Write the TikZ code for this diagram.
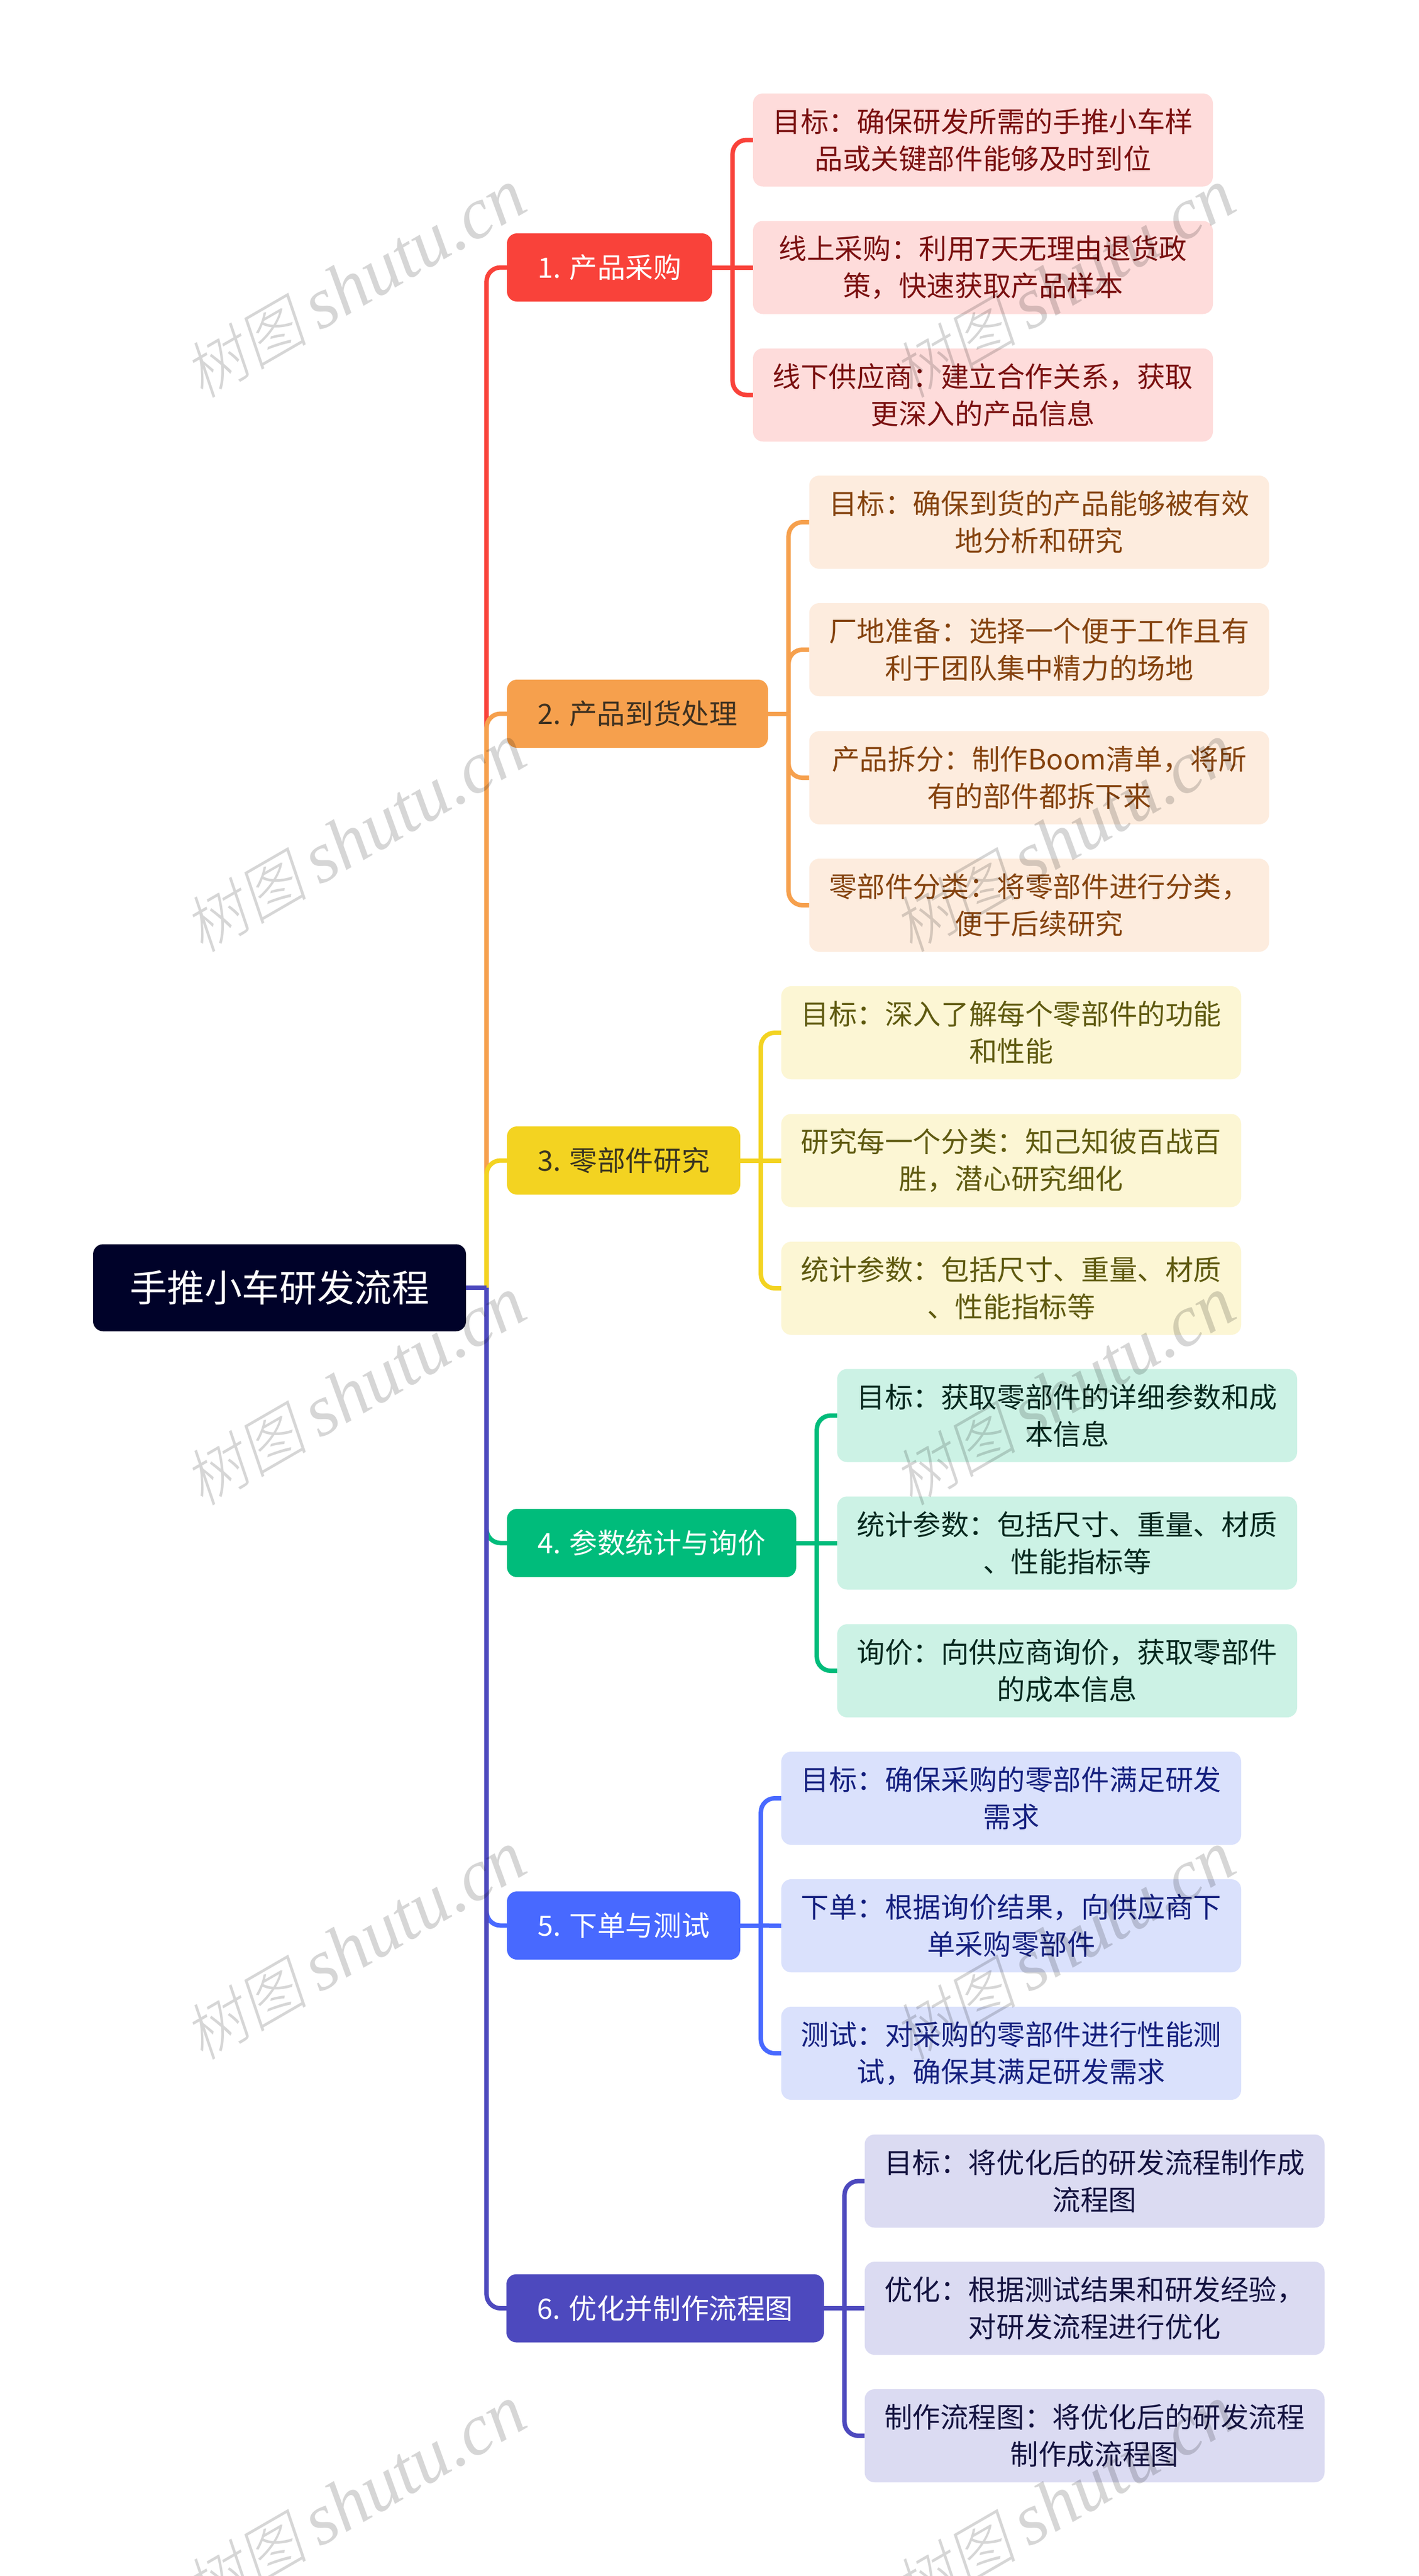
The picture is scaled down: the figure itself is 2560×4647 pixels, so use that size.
\documentclass[tikz,border=0pt]{standalone}
\usepackage{fontspec}
\setmainfont{Noto Sans CJK SC}
\newfontfamily\wmcjk[FakeSlant=0.2]{Noto Sans CJK SC Light}
\newfontfamily\wmlat{Liberation Serif}
\definecolor{c0}{HTML}{000229}
\definecolor{c1}{HTML}{F9423A}\definecolor{l1}{HTML}{FEDCDB}\definecolor{t1}{HTML}{7A1010}\definecolor{h1}{HTML}{FFFFFF}
\definecolor{c2}{HTML}{F6A04D}\definecolor{l2}{HTML}{FDECDE}\definecolor{t2}{HTML}{85430F}\definecolor{h2}{HTML}{3D3020}
\definecolor{c3}{HTML}{F3D321}\definecolor{l3}{HTML}{FCF6D4}\definecolor{t3}{HTML}{5F5A10}\definecolor{h3}{HTML}{3A3520}
\definecolor{c4}{HTML}{00BC7B}\definecolor{l4}{HTML}{CCF2E5}\definecolor{t4}{HTML}{06281E}\definecolor{h4}{HTML}{FFFFFF}
\definecolor{c5}{HTML}{4869FF}\definecolor{l5}{HTML}{DAE1FC}\definecolor{t5}{HTML}{15207F}\definecolor{h5}{HTML}{FFFFFF}
\definecolor{c6}{HTML}{4D49BE}\definecolor{l6}{HTML}{DBDBF2}\definecolor{t6}{HTML}{141340}\definecolor{h6}{HTML}{FFFFFF}
\tikzset{
  x=1pt,y=-1pt,
  rootbox/.style={fill=c0,text=white,rounded corners=18pt,minimum width=673pt,minimum height=157pt,inner sep=0pt,font=\fontsize{67.6}{80}\selectfont},
  topicbox/.style={fill=c#1,text=h#1,rounded corners=18pt,minimum height=123pt,inner sep=0pt,font=\fontsize{50.6}{67}\selectfont},
  leafbox/.style={fill=l#1,text=t#1,rounded corners=18pt,minimum width=830pt,minimum height=168pt,inner sep=0pt,align=center,font=\fontsize{50.6}{67}\selectfont},
  wire/.style={draw=c#1,line width=8pt,rounded corners=25pt},
  mark text/.style={rotate=30,text=black,text opacity=0.16,inner sep=0pt}
}
\newcommand{\wmark}[2]{\node[mark text] (w#1) at (#2) {{\fontsize{112}{118}\selectfont\wmcjk 树图}\hspace{22pt}{\fontsize{131}{118}\selectfont\wmlat\itshape shutu.cn}};}
\begin{document}
\begin{tikzpicture}
\useasboundingbox (0,0) rectangle (2560,4647);
\fill[white] (0,0) rectangle (2560,4647);
% nodes
\node[rootbox] (root) at (504.5,2323) {手推小车研发流程};
\node[topicbox=1,minimum width=370pt] (n1) at (1100,482.5) {1. 产品采购};
\node[topicbox=2,minimum width=471pt] (n2) at (1150.5,1287.5) {2. 产品到货处理};
\node[topicbox=3,minimum width=421pt] (n3) at (1125.5,2093.5) {3. 零部件研究};
\node[topicbox=4,minimum width=522pt] (n4) at (1176,2783.5) {4. 参数统计与询价};
\node[topicbox=5,minimum width=421pt] (n5) at (1125.5,3473.5) {5. 下单与测试};
\node[topicbox=6,minimum width=573pt] (n6) at (1200.5,4164) {6. 优化并制作流程图};

\node[leafbox=1] (a1) at (1774,252.5) {目标：确保研发所需的手推小车样\\品或关键部件能够及时到位};
\node[leafbox=1] (a2) at (1774,482.5) {线上采购：利用7天无理由退货政\\策，快速获取产品样本};
\node[leafbox=1] (a3) at (1774,712.5) {线下供应商：建立合作关系，获取\\更深入的产品信息};

\node[leafbox=2] (b1) at (1875.5,942) {目标：确保到货的产品能够被有效\\地分析和研究};
\node[leafbox=2] (b2) at (1875.5,1172) {厂地准备：选择一个便于工作且有\\利于团队集中精力的场地};
\node[leafbox=2] (b3) at (1875.5,1403) {产品拆分：制作Boom清单，将所\\有的部件都拆下来};
\node[leafbox=2] (b4) at (1875.5,1633) {零部件分类：将零部件进行分类，\\便于后续研究};

\node[leafbox=3] (c1) at (1825,1863) {目标：深入了解每个零部件的功能\\和性能};
\node[leafbox=3] (c2) at (1825,2093.5) {研究每一个分类：知己知彼百战百\\胜，潜心研究细化};
\node[leafbox=3] (c3) at (1825,2324) {统计参数：包括尺寸、重量、材质\\、性能指标等};

\node[leafbox=4] (d1) at (1926,2553.5) {目标：获取零部件的详细参数和成\\本信息};
\node[leafbox=4] (d2) at (1926,2783.5) {统计参数：包括尺寸、重量、材质\\、性能指标等};
\node[leafbox=4] (d3) at (1926,3014) {询价：向供应商询价，获取零部件\\的成本信息};

\node[leafbox=5] (e1) at (1825,3244) {目标：确保采购的零部件满足研发\\需求};
\node[leafbox=5] (e2) at (1825,3474) {下单：根据询价结果，向供应商下\\单采购零部件};
\node[leafbox=5] (e3) at (1825,3704) {测试：对采购的零部件进行性能测\\试，确保其满足研发需求};

\node[leafbox=6] (f1) at (1975.5,3934.5) {目标：将优化后的研发流程制作成\\流程图};
\node[leafbox=6] (f2) at (1975.5,4164) {优化：根据测试结果和研发经验，\\对研发流程进行优化};
\node[leafbox=6] (f3) at (1975.5,4394) {制作流程图：将优化后的研发流程\\制作成流程图};

% trunk connectors
\path (root.east) ++(37,0) coordinate (s0);
\foreach \i in {1,...,6}{
  \draw[wire=\i] (root.east) -- (s0);
  \draw[wire=\i] (s0) |- (n\i.west);
}
% branch connectors
\foreach \p/\k/\l in {1/a/{1,3},2/b/{1,2,3,4},3/c/{1,3},4/d/{1,3},5/e/{1,3},6/f/{1,3}}{
  \path (n\p.east) ++(37,0) coordinate (s\p);
  \draw[wire=\p] (n\p.east) -- (s\p);
  \foreach \j in \l {
    \draw[wire=\p] (s\p) |- (\k\j.west);
  }
}
\draw[wire=1] (s1) -- (a2.west);
\draw[wire=3] (s3) -- (c2.west);
\draw[wire=4] (s4) -- (d2.west);
\draw[wire=5] (s5) -- (e2.west);
\draw[wire=6] (s6) -- (f2.west);
% watermarks
\wmark{1}{640,512}
\wmark{2}{1920,512}
\wmark{3}{640,1512}
\wmark{4}{1920,1512}
\wmark{5}{640,2510}
\wmark{6}{1920,2510}
\wmark{7}{640,3510}
\wmark{8}{1920,3510}
\wmark{9}{640,4510}
\wmark{10}{1920,4510}
\end{tikzpicture}
\end{document}
